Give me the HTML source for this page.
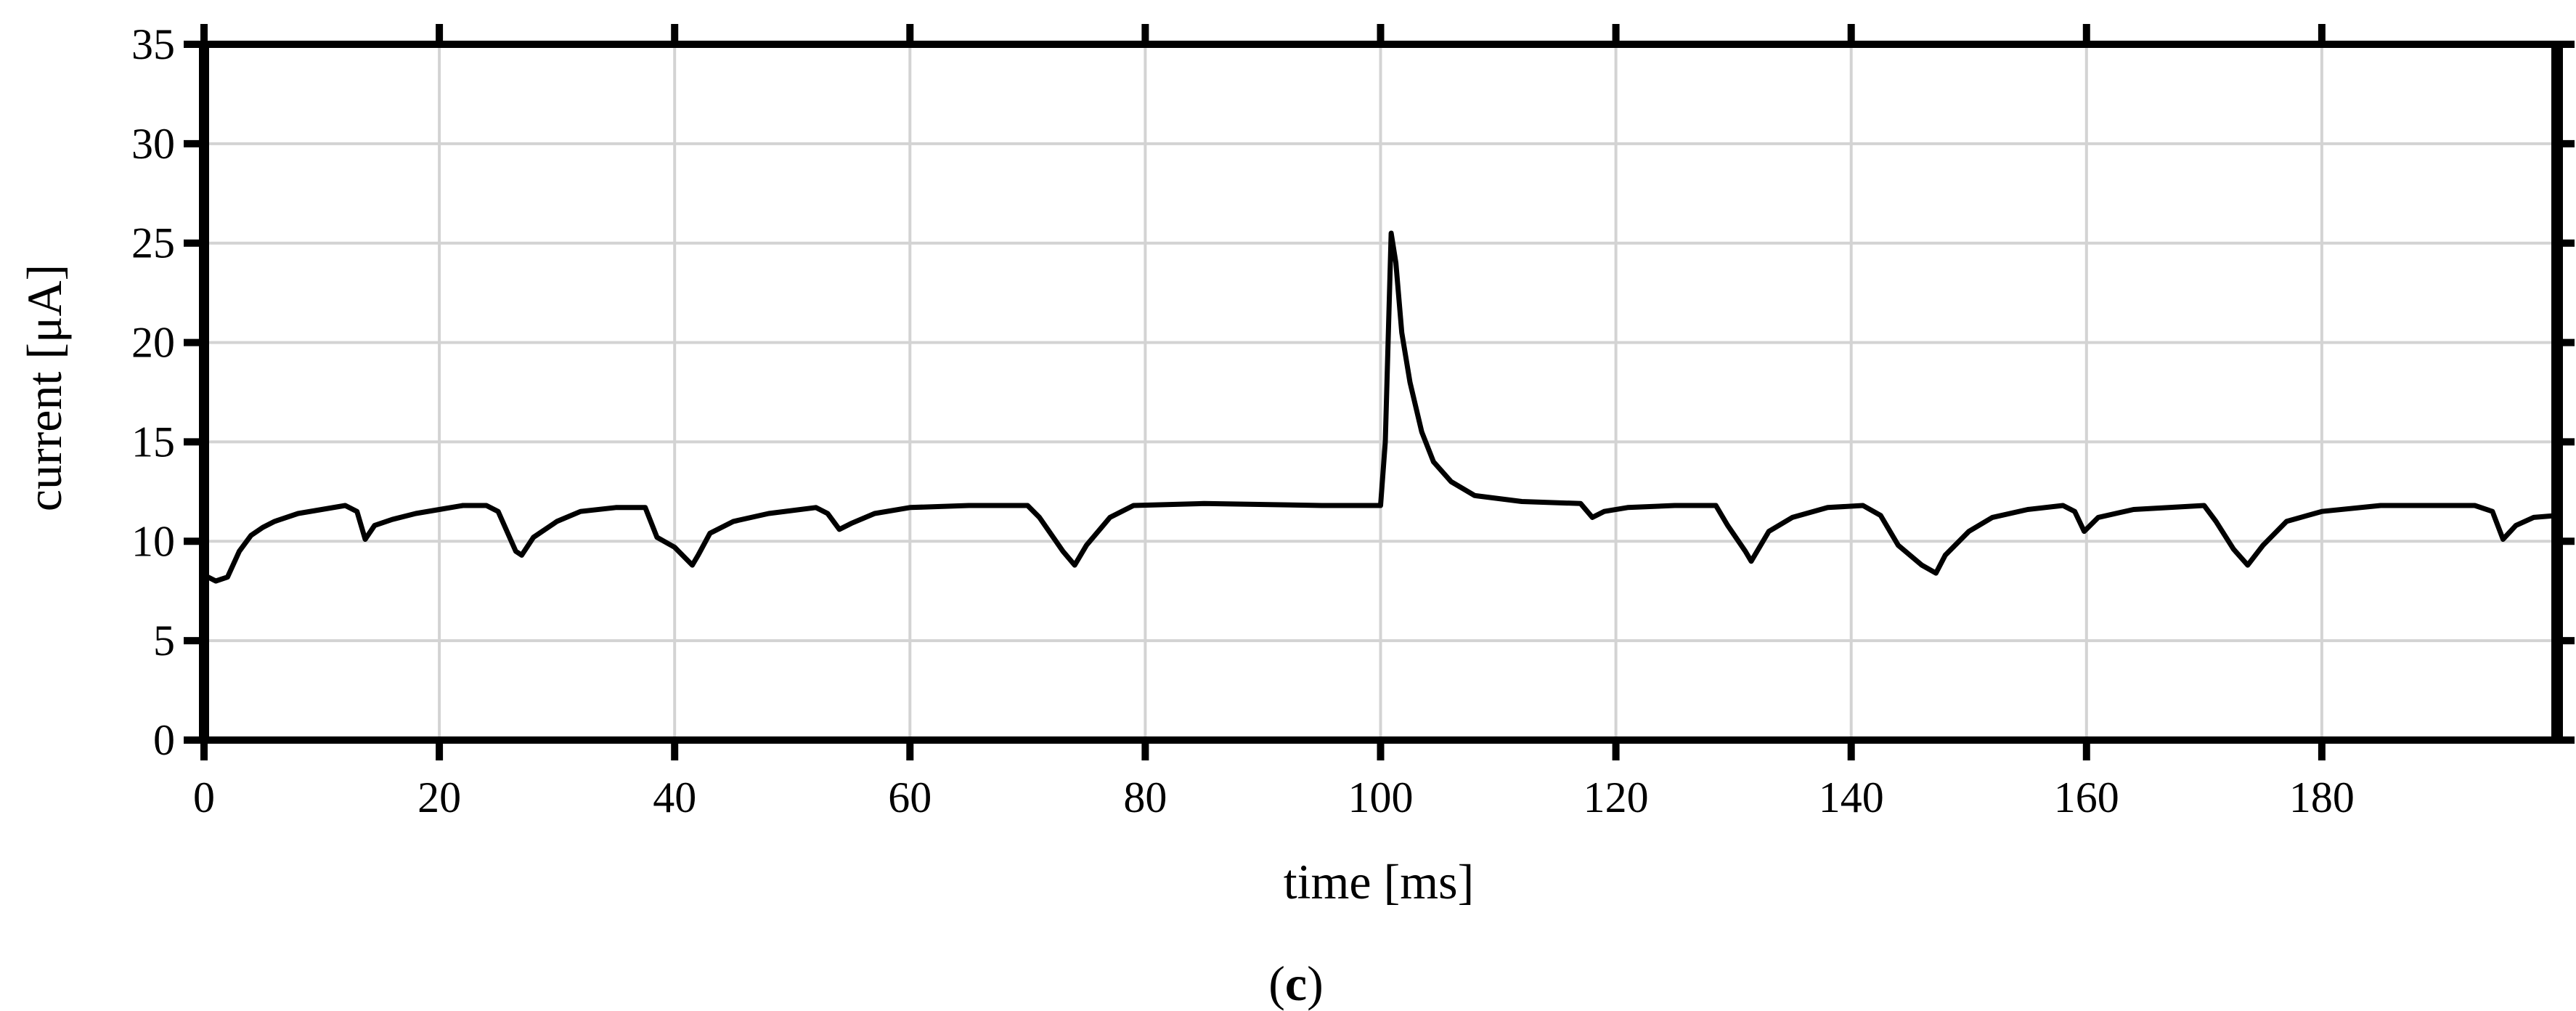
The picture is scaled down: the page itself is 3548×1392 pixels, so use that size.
<!DOCTYPE html>
<html><head><meta charset="utf-8">
<style>
html,body{margin:0;padding:0;background:#fff;}
svg{display:block;}
text{font-family:"Liberation Serif",serif;fill:#000;}
</style></head>
<body>
<svg id="chart" width="3548" height="1392" viewBox="0 0 3548 1392" xmlns="http://www.w3.org/2000/svg">
<g id="grid"></g>
<g id="trace"></g>
<g id="axes"></g>
<g id="labels"></g>
<text x="1899" y="1237" font-size="68" text-anchor="middle">time [ms]</text>
<text transform="translate(84,534) rotate(-90)" font-size="68" text-anchor="middle">current [μA]</text>
<text x="1785" y="1377" font-size="68" text-anchor="middle">(<tspan font-weight="bold">c</tspan>)</text>
</svg>
<script>
const xTicks = [0,20,40,60,80,100,120,140,160,180];
const yTicks = [0,5,10,15,20,25,30,35];
const times = [0,1,2,3,4,5,6,8,10,12,13,13.7,14.5,16,18,20,22,24,25,26.5,27,28,30,32,35,37.5,38.5,40,41.5,42,43,45,48,52,53,54,55,57,60,65,70,71,73,74,75,77,79,85,95,100,100.4,100.9,101.3,101.8,102.5,103.5,104.5,106,108,112,117,118,119,121,125,128.5,129.5,131,131.5,133,135,138,141,142.5,144,146,147.2,148,150,152,155,158,159,159.8,161,164,170,171,172.5,173.7,175,177,180,185,193,194.5,195.4,196.5,198,200];
const currents = [8.3,8.0,8.2,9.5,10.3,10.7,11.0,11.4,11.6,11.8,11.5,10.1,10.8,11.1,11.4,11.6,11.8,11.8,11.5,9.5,9.3,10.2,11.0,11.5,11.7,11.7,10.2,9.7,8.8,9.3,10.4,11.0,11.4,11.7,11.4,10.6,10.9,11.4,11.7,11.8,11.8,11.2,9.5,8.8,9.8,11.2,11.8,11.9,11.8,11.8,15,25.5,24,20.5,18,15.5,14,13,12.3,12.0,11.9,11.2,11.5,11.7,11.8,11.8,10.8,9.5,9.0,10.5,11.2,11.7,11.8,11.3,9.8,8.8,8.4,9.3,10.5,11.2,11.6,11.8,11.5,10.5,11.2,11.6,11.8,11.0,9.6,8.8,9.8,11.0,11.5,11.8,11.8,11.5,10.1,10.8,11.2,11.3];

const X0=281, X1=3522, Y0=1019, Y1=61, XMAX=200, YMAX=35;
const sx = t => X0 + (X1-X0)*t/XMAX;
const sy = v => Y0 - (Y0-Y1)*v/YMAX;
const NS="http://www.w3.org/2000/svg";
function mk(tag, attrs, parent){const e=document.createElementNS(NS,tag);for(const k in attrs)e.setAttribute(k,attrs[k]);parent.appendChild(e);return e;}
const grid=document.getElementById('grid'), axes=document.getElementById('axes'), labels=document.getElementById('labels'), trace=document.getElementById('trace');

xTicks.forEach(t=>{
  if(t>0){const g=mk('line',{x1:sx(t),x2:sx(t),y1:Y1,y2:Y0,stroke:'#d3d3d3','stroke-width':4},grid);
  
  }
  const tb=mk('line',{x1:sx(t),x2:sx(t),y1:Y0,y2:Y0+28,stroke:'#000','stroke-width':10},axes);
  
  
  const tt=mk('line',{x1:sx(t),x2:sx(t),y1:Y1-28,y2:Y1,stroke:'#000','stroke-width':10},axes);
  
  
  const lb=mk('text',{x:sx(t),y:1118,'font-size':60,'text-anchor':'middle'},labels);
  lb.textContent=t;
  
  
});
yTicks.forEach(v=>{
  if(v>0&&v<35){const g=mk('line',{x1:X0,x2:X1,y1:sy(v),y2:sy(v),stroke:'#d3d3d3','stroke-width':4},grid);
  
  }
  const tl=mk('line',{x1:X0-28,x2:X0,y1:sy(v),y2:sy(v),stroke:'#000','stroke-width':10},axes);
  
  
  const tr=mk('line',{x1:X1,x2:X1+24,y1:sy(v),y2:sy(v),stroke:'#000','stroke-width':10},axes);
  
  
  const lb=mk('text',{x:X0-40,y:sy(v)+20,'font-size':60,'text-anchor':'end'},labels);
  lb.textContent=v;
  
  
});
const frame=mk('rect',{x:X0,y:Y1,width:X1-X0,height:Y0-Y1,fill:'none',stroke:'#000','stroke-width':10},axes);


const ra=mk('line',{x1:X1,x2:X1,y1:Y1,y2:Y0+5,stroke:'#000','stroke-width':16},axes);


const la=mk('line',{x1:X0,x2:X0,y1:Y1-5,y2:Y0+5,stroke:'#000','stroke-width':14},axes);



const pts=times.map((t,i)=>sx(t).toFixed(1)+','+sy(currents[i]).toFixed(1)).join(' ');
const pl=mk('polyline',{points:pts,fill:'none',stroke:'#000','stroke-width':7,'stroke-linejoin':'round'},trace);


</script>
</body></html>
